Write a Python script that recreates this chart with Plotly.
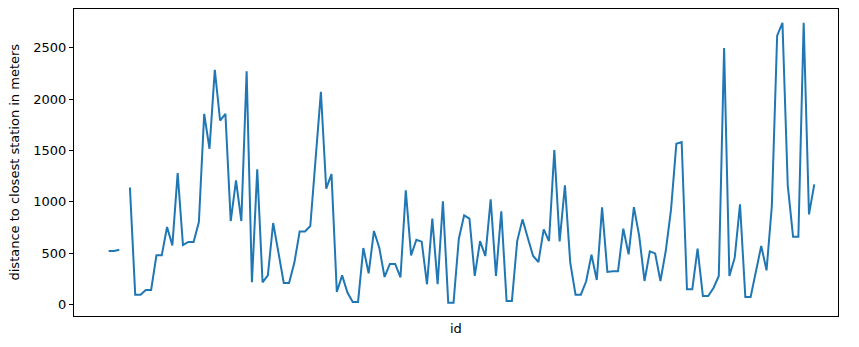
import plotly.graph_objects as go

distance_m = [
    522, 522, 535, None, 1140, 97, 97, 143, 143, 480,
    480, 756, 577, 1281, 580, 610, 610, 804, 1858, 1518,
    2286, 1793, 1858, 814, 1210, 814, 2273, 217, 1317, 217,
    285, 795, 506, 211, 211, 409, 713, 713, 765, 1420,
    2072, 1129, 1271, 123, 285, 117, 26, 26, 551, 305,
    717, 555, 269, 396, 396, 266, 1112, 480, 632, 613,
    198, 837, 198, 1005, 19, 19, 642, 869, 837, 279,
    619, 473, 1025, 279, 908, 36, 36, 619, 830, 649,
    473, 415, 733, 619, 1505, 616, 1161, 409, 97, 97,
    227, 486, 240, 947, 318, 324, 324, 739, 490, 950,
    668, 230, 519, 499, 230, 522, 927, 1566, 1583, 149,
    149, 545, 84, 84, 162, 279, 2500, 279, 457, 976,
    75, 75, 328, 571, 334, 960, 2620, 2744, 1161, 662,
    662, 2744, 879, 1171,
]
ids = list(range(len(distance_m)))
y_ticks = [0, 500, 1000, 1500, 2000, 2500]

fig = go.Figure()
fig.add_trace(go.Scatter(
    x=ids, y=distance_m, mode="lines",
    line=dict(color="#1f77b4", width=2),
    connectgaps=False, hoverinfo="skip",
))

font = dict(family="DejaVu Sans", size=13, color="black")
fig.update_layout(
    width=859, height=347,
    margin=dict(l=74, r=21, t=9, b=31),
    paper_bgcolor="white", plot_bgcolor="white",
    showlegend=False, font=font,
    xaxis=dict(range=[-6.54, 137.47], showgrid=False, zeroline=False,
               showticklabels=False, ticks="",
               showline=True, mirror=True, linecolor="black", linewidth=1),
    yaxis=dict(range=[-111, 2879], showgrid=False, zeroline=False,
               tickvals=y_ticks, ticktext=[str(v) for v in y_ticks],
               ticks="outside", ticklen=4, tickcolor="black", tickwidth=1,
               tickfont=font,
               showline=True, mirror=True, linecolor="black", linewidth=1),
    annotations=[
        dict(text="id", xref="paper", yref="paper", x=0.5, y=0.0,
             yshift=-12, showarrow=False, font=font, xanchor="center", yanchor="middle"),
        dict(text="distance to closest station in meters", xref="paper", yref="paper",
             x=0, xshift=-60, y=0.5, textangle=-90, showarrow=False, font=font,
             xanchor="center", yanchor="middle"),
    ],
)
fig.write_html("out.html")
